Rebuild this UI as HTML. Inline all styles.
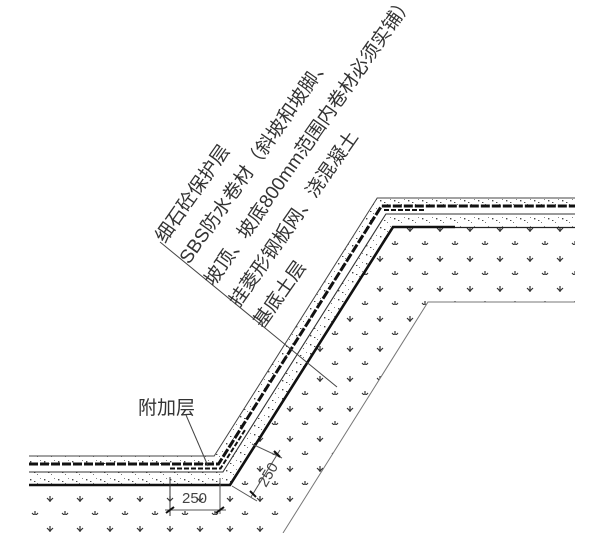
<!DOCTYPE html>
<html><head><meta charset="utf-8">
<style>
html,body{margin:0;padding:0;background:#fff;}
svg{display:block;}
text{font-family:"Liberation Sans","WenQuanYi Zen Hei","Noto Sans CJK SC",sans-serif;fill:#333;}
</style></head>
<body>
<svg width="602" height="533" viewBox="0 0 602 533" xmlns="http://www.w3.org/2000/svg">
<defs>
<pattern id="soil" width="30" height="30" patternUnits="userSpaceOnUse" x="5" y="5">
  <path d="M12,13 L15,16 L18,13 M15,11 V17" stroke="#333" stroke-width="1.2" fill="none"/>
  <path d="M-3,28 L0,31 L3,28 M0,26 V32 M27,28 L30,31 L33,28 M30,26 V32" stroke="#333" stroke-width="1.2" fill="none"/>
</pattern>
<pattern id="dots" width="14" height="9" patternUnits="userSpaceOnUse">
  <rect x="2" y="2" width="1.4" height="1.4" fill="#444"/>
  <rect x="9" y="6" width="1" height="1" fill="#777"/>
  <rect x="6" y="4" width="1.4" height="1" fill="#444"/>
  <rect x="12" y="1" width="1" height="1" fill="#888"/>
</pattern>
</defs>

<!-- soil -->
<polygon points="29,486 230,486 393,228 575,228 575,302 428,302 283,533 29,533" fill="url(#soil)"/>
<polyline points="575,302 428,302 283,533" fill="none" stroke="#777" stroke-width="1"/>

<!-- concrete fills -->
<polygon points="29,485 230,485 393,227 575,227 575,214 385.9,214 222.9,472 29,472" fill="url(#dots)"/>
<polygon points="29,464 218.5,464 381.5,206 575,206 575,198 377.2,198 214.2,456 29,456" fill="url(#dots)"/>

<!-- layer lines -->
<polyline points="29,485 230,485 393,227 455,227" fill="none" stroke="#111" stroke-width="2.6"/>
<line x1="455" y1="227.5" x2="575" y2="227.5" stroke="#222" stroke-width="1.2"/>
<polyline points="29,472 222.9,472 385.9,214 575,214" fill="none" stroke="#333" stroke-width="1.1"/>
<polyline points="29,464 218.5,464 381.5,206 575,206" fill="none" stroke="#111" stroke-width="3" stroke-dasharray="9,2"/>
<polyline points="29,456 214.2,456 377.2,198 575,198" fill="none" stroke="#444" stroke-width="1"/>
<!-- additional layer -->
<polyline points="170,468.5 220.5,468.5 245,430" fill="none" stroke="#111" stroke-width="2" stroke-dasharray="5,2"/>
<polyline points="384,210 425,210" fill="none" stroke="#111" stroke-width="2" stroke-dasharray="5,2"/>

<!-- dimension horizontal -->
<line x1="170" y1="477" x2="170" y2="516" stroke="#333" stroke-width="1"/>
<line x1="220" y1="478" x2="220" y2="514" stroke="#555" stroke-width="1"/>
<line x1="165" y1="510" x2="226" y2="510" stroke="#555" stroke-width="1"/>
<line x1="166" y1="513" x2="174" y2="507" stroke="#111" stroke-width="2"/>
<line x1="216" y1="513" x2="224" y2="507" stroke="#111" stroke-width="2"/>
<text x="182" y="503" font-size="15" font-family="Liberation Sans" style="fill:#444">250</text>

<!-- dimension slope -->
<line x1="232" y1="486" x2="257" y2="501" stroke="#555" stroke-width="1"/>
<line x1="252" y1="444" x2="282" y2="458" stroke="#555" stroke-width="1"/>
<line x1="251" y1="497" x2="280" y2="450" stroke="#555" stroke-width="1"/>
<line x1="250" y1="491" x2="256" y2="497" stroke="#111" stroke-width="2"/>
<line x1="274" y1="451" x2="280" y2="457" stroke="#111" stroke-width="2"/>
<text x="0" y="0" font-size="15" font-family="Liberation Sans" style="fill:#444" transform="translate(266,488) rotate(-60)">250</text>

<!-- leaders -->
<line x1="160" y1="242" x2="337" y2="387" stroke="#444" stroke-width="1"/>
<line x1="186" y1="415" x2="208" y2="466" stroke="#444" stroke-width="1"/>

<!-- labels -->
<text x="138" y="414" font-size="19">附加层</text>
<g font-size="19">
<text transform="translate(165,244) rotate(-55)">细石砼保护层</text>
<text transform="translate(189,265) rotate(-55)">SBS防水卷材（斜坡和坡脚、</text>
<text transform="translate(214,287) rotate(-55)">坡顶、坡底800mm范围内卷材必须实铺）</text>
<text transform="translate(239,308) rotate(-55)">挂菱形钢板网、浇混凝土</text>
<text transform="translate(263,329) rotate(-55)">基底土层</text>
</g>
</svg>
</body></html>
